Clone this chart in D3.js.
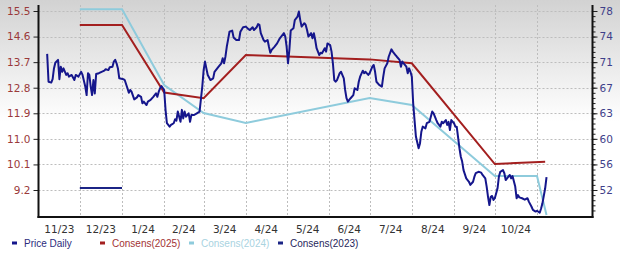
<!DOCTYPE html>
<html>
<head>
<meta charset="utf-8">
<script src="https://cdn.jsdelivr.net/npm/d3@7"></script>
<style>
  html, body { margin: 0; padding: 0; background: #fff; }
  #chart { width: 620px; height: 253px; }
  text { font-family: "DejaVu Sans", Verdana, sans-serif; }
</style>
</head>
<body>
<div id="chart"></div>
<script>
// ---- data ----
const monthLabels = ['11/23', '12/23', '1/24', '2/24', '3/24', '4/24', '5/24', '6/24', '7/24', '8/24', '9/24', '10/24'];
const leftTicks = [15.5, 14.6, 13.7, 12.8, 11.9, 11.0, 10.1, 9.2];
const rightTicks = [78.0, 74.3, 70.6, 66.9, 63.2, 59.5, 55.8, 52.1];

const priceDates = [
  '2023-11-07','2023-11-08','2023-11-10','2023-11-11','2023-11-12','2023-11-13','2023-11-15','2023-11-16','2023-11-17','2023-11-18',
  '2023-11-19','2023-11-21','2023-11-22','2023-11-23','2023-11-25','2023-11-27','2023-11-28','2023-11-30','2023-12-02','2023-12-03',
  '2023-12-05','2023-12-06','2023-12-07','2023-12-08','2023-12-09','2023-12-10','2023-12-11','2023-12-12','2023-12-13','2023-12-15',
  '2023-12-17','2023-12-19','2023-12-20','2023-12-22','2023-12-23','2023-12-25','2023-12-26','2023-12-27','2023-12-28','2023-12-29',
  '2023-12-30','2024-01-02','2024-01-03','2024-01-05','2024-01-06','2024-01-07','2024-01-08','2024-01-10','2024-01-12','2024-01-13',
  '2024-01-15','2024-01-16','2024-01-17','2024-01-19','2024-01-20','2024-01-22','2024-01-24','2024-01-26','2024-01-27','2024-01-28',
  '2024-01-29','2024-01-30','2024-02-01','2024-02-02','2024-02-03','2024-02-05','2024-02-06','2024-02-08','2024-02-09','2024-02-10',
  '2024-02-11','2024-02-13','2024-02-14','2024-02-15','2024-02-16','2024-02-17','2024-02-19','2024-02-20','2024-02-21','2024-02-23',
  '2024-02-25','2024-02-27','2024-02-29','2024-03-01','2024-03-02','2024-03-03','2024-03-04','2024-03-06','2024-03-08','2024-03-09',
  '2024-03-11','2024-03-12','2024-03-14','2024-03-15','2024-03-16','2024-03-17','2024-03-18','2024-03-19','2024-03-20','2024-03-22',
  '2024-03-23','2024-03-25','2024-03-27','2024-03-28','2024-03-30','2024-04-01','2024-04-03','2024-04-04','2024-04-06','2024-04-07',
  '2024-04-09','2024-04-10','2024-04-11','2024-04-12','2024-04-14','2024-04-15','2024-04-17','2024-04-18','2024-04-19','2024-04-20',
  '2024-04-22','2024-04-24','2024-04-26','2024-04-29','2024-04-30','2024-05-01','2024-05-02','2024-05-03','2024-05-04','2024-05-06',
  '2024-05-07','2024-05-09','2024-05-10','2024-05-11','2024-05-12','2024-05-14','2024-05-15','2024-05-16','2024-05-17','2024-05-19',
  '2024-05-20','2024-05-21','2024-05-22','2024-05-23','2024-05-25','2024-05-26','2024-05-27','2024-05-29','2024-05-30','2024-05-31',
  '2024-06-02','2024-06-03','2024-06-04','2024-06-05','2024-06-06','2024-06-07','2024-06-09','2024-06-10','2024-06-12','2024-06-13',
  '2024-06-14','2024-06-15','2024-06-17','2024-06-19','2024-06-20','2024-06-22','2024-06-23','2024-06-24','2024-06-26','2024-06-27',
  '2024-06-28','2024-06-30','2024-07-01','2024-07-03','2024-07-04','2024-07-05','2024-07-06','2024-07-08','2024-07-10','2024-07-11',
  '2024-07-12','2024-07-14','2024-07-15','2024-07-17','2024-07-18','2024-07-20','2024-07-21','2024-07-23','2024-07-24','2024-07-25',
  '2024-07-26','2024-07-28','2024-07-29','2024-07-30','2024-07-31','2024-08-01','2024-08-02','2024-08-03','2024-08-04','2024-08-06',
  '2024-08-07','2024-08-08','2024-08-09','2024-08-11','2024-08-12','2024-08-14','2024-08-16','2024-08-17','2024-08-19','2024-08-20',
  '2024-08-22','2024-08-23','2024-08-24','2024-08-26','2024-08-27','2024-08-28','2024-08-29','2024-08-30','2024-09-01','2024-09-02',
  '2024-09-03','2024-09-05','2024-09-06','2024-09-07','2024-09-08','2024-09-10','2024-09-12','2024-09-13','2024-09-15','2024-09-16',
  '2024-09-17','2024-09-19','2024-09-21','2024-09-22','2024-09-24','2024-09-25','2024-09-26','2024-09-27','2024-09-28','2024-09-29',
  '2024-09-30','2024-10-01','2024-10-03','2024-10-04','2024-10-05','2024-10-07','2024-10-08','2024-10-09','2024-10-11','2024-10-12',
  '2024-10-13','2024-10-14','2024-10-16','2024-10-17','2024-10-18','2024-10-19','2024-10-21','2024-10-23','2024-10-25','2024-10-26',
  '2024-10-28','2024-10-29','2024-10-31','2024-11-01','2024-11-03','2024-11-04','2024-11-05','2024-11-07','2024-11-08'
];
const priceValues = [
  13.99, 13.01, 12.98, 13.10, 13.48, 13.68, 13.78, 13.10, 13.54, 13.36,
  13.48, 13.25, 13.31, 13.19, 13.25, 13.07, 13.25, 13.19, 13.36, 13.25,
  12.84, 12.54, 13.31, 13.25, 12.84, 12.54, 13.07, 12.60, 13.28, 13.31,
  13.36, 13.40, 13.45, 13.42, 13.52, 13.54, 13.72, 13.78, 13.66, 13.48,
  13.13, 13.10, 13.07, 12.78, 12.62, 12.72, 12.66, 12.39, 12.46, 12.54,
  12.48, 12.25, 12.31, 12.19, 12.31, 12.37, 12.48, 12.60, 12.48, 12.66,
  12.78, 12.86, 12.72, 12.02, 11.55, 11.43, 11.49, 11.55, 11.69, 11.64,
  11.96, 11.60, 12.02, 11.72, 11.96, 11.78, 11.90, 11.60, 11.84, 11.84,
  11.90, 11.96, 12.84, 13.42, 13.72, 13.48, 13.25, 13.07, 13.13, 13.36,
  13.48, 13.54, 13.66, 13.84, 13.66, 13.89, 14.24, 14.50, 14.77, 14.81,
  14.57, 14.48, 14.48, 14.77, 14.93, 14.95, 14.86, 14.83, 14.93, 14.83,
  14.93, 15.04, 15.01, 14.72, 14.48, 14.42, 14.48, 14.24, 14.03, 14.13,
  14.24, 14.36, 14.54, 14.72, 14.60, 14.24, 13.66, 14.13, 14.81, 14.89,
  15.18, 15.30, 15.48, 15.18, 14.95, 15.07, 15.01, 14.83, 14.60, 14.72,
  14.54, 14.72, 14.48, 14.19, 13.95, 14.03, 14.01, 14.19, 14.07, 14.36,
  14.30, 14.07, 13.66, 13.07, 13.01, 13.07, 13.31, 13.36, 13.13, 12.72,
  12.43, 12.31, 12.43, 12.54, 12.78, 12.72, 13.01, 13.19, 13.40, 13.31,
  13.36, 13.25, 13.31, 13.54, 13.60, 13.36, 13.01, 12.90, 12.84, 13.19,
  13.48, 13.66, 13.89, 14.15, 14.07, 13.95, 13.89, 13.78, 13.54, 13.72,
  13.66, 13.54, 13.31, 13.48, 13.36, 13.19, 12.25, 11.66, 11.08, 10.67,
  10.84, 11.25, 11.43, 11.37, 11.55, 11.60, 11.96, 11.90, 11.66, 11.55,
  11.43, 11.60, 11.55, 11.66, 11.49, 11.60, 11.31, 11.66, 11.55, 11.43,
  11.43, 10.67, 10.37, 10.20, 9.90, 9.61, 9.49, 9.38, 9.49, 9.67,
  9.79, 9.84, 9.81, 9.73, 9.61, 9.32, 8.96, 8.67, 8.96, 8.99,
  8.85, 8.91, 9.26, 9.67, 9.84, 9.90, 9.79, 9.55, 9.67, 9.73,
  9.61, 9.69, 9.32, 8.91, 9.02, 8.94, 8.91, 8.86, 8.91, 8.79,
  8.61, 8.50, 8.44, 8.47, 8.40, 8.55, 8.73, 9.26, 9.65
];

// consensus estimates (right axis)
const cons2025Dates = ['2023-12-01', '2024-01-01', '2024-02-01', '2024-03-01', '2024-04-01', '2024-07-01', '2024-08-01', '2024-10-01', '2024-11-07'];
const cons2025Values = [75.98, 75.98, 66.20, 65.37, 71.63, 71.00, 70.43, 55.86, 56.20];
const cons2024Dates = ['2023-12-01', '2024-01-01', '2024-02-01', '2024-03-01', '2024-04-01', '2024-07-01', '2024-08-01', '2024-10-01', '2024-11-01', '2024-11-08'];
const cons2024Values = [78.25, 78.25, 67.29, 63.24, 61.79, 65.41, 64.40, 54.13, 54.13, 48.48];
const cons2023Dates = ['2023-12-01', '2024-01-01'];
const cons2023Values = [52.39, 52.39];

const seriesNames = ['Price Daily', 'Consens(2025)', 'Consens(2024)', 'Consens(2023)'];

// ---- layout ----
const W = 620, H = 253;
const plot = { left: 38.5, right: 592.5, top: 5, bottom: 217 };
const colors = {
  price: '#15168c',
  c2025: '#a31f1f',
  c2024: '#8ecbdc',
  c2023: '#1b2485'
};

const parse = d3.timeParse('%Y-%m-%d');
const zip = (ds, vs) => ds.map((d, i) => ({ date: parse(d), value: vs[i] }));

const price = zip(priceDates, priceValues);
const c2025 = zip(cons2025Dates, cons2025Values);
const c2024 = zip(cons2024Dates, cons2024Values);
const c2023 = zip(cons2023Dates, cons2023Values);

const svg = d3.select('#chart')
  .append('svg')
  .attr('width', W)
  .attr('height', H);

// background gradient, gray at the top fading to white
const grad = svg.append('defs').append('linearGradient')
  .attr('id', 'bg')
  .attr('x1', 0).attr('y1', 0).attr('x2', 0).attr('y2', 1);
grad.append('stop').attr('offset', '0%').attr('stop-color', '#d2d2d2');
grad.append('stop').attr('offset', '48%').attr('stop-color', '#ffffff');
grad.append('stop').attr('offset', '100%').attr('stop-color', '#ffffff');

svg.append('rect')
  .attr('width', W)
  .attr('height', H)
  .attr('fill', 'url(#bg)');

// scales
const x = d3.scaleTime()
  .domain([parse('2023-11-01'), parse('2024-11-01')])
  .range([39, 537]);

const yL = d3.scaleLinear()
  .domain([9.2, 15.5])
  .range([190, 11]);

const yR = d3.scaleLinear()
  .domain([52.1, 78.0])
  .range([190, 11]);

const monthStarts = d3.timeMonth.range(parse('2023-11-01'), parse('2024-12-01'));

// grid
const grid = svg.append('g')
  .attr('stroke', '#bdbdbd')
  .attr('stroke-width', 1)
  .attr('stroke-dasharray', '2,2');

grid.selectAll('.hgrid')
  .data(leftTicks)
  .join('line')
  .attr('class', 'hgrid')
  .attr('x1', plot.left)
  .attr('x2', plot.right)
  .attr('y1', (d) => Math.round(yL(d)) + 0.5)
  .attr('y2', (d) => Math.round(yL(d)) + 0.5);

grid.selectAll('.vgrid')
  .data(monthStarts.slice(1))
  .join('line')
  .attr('class', 'vgrid')
  .attr('x1', (d) => Math.round(x(d)) + 0.5)
  .attr('x2', (d) => Math.round(x(d)) + 0.5)
  .attr('y1', plot.top)
  .attr('y2', plot.bottom);

// lines
const lineL = d3.line().x((d) => x(d.date)).y((d) => yL(d.value));
const lineR = d3.line().x((d) => x(d.date)).y((d) => yR(d.value));

svg.append('path')
  .datum(c2024)
  .attr('d', lineR)
  .attr('fill', 'none')
  .attr('stroke', colors.c2024)
  .attr('stroke-width', 2);

svg.append('path')
  .datum(c2025)
  .attr('d', lineR)
  .attr('fill', 'none')
  .attr('stroke', colors.c2025)
  .attr('stroke-width', 2);

svg.append('path')
  .datum(c2023)
  .attr('d', lineR)
  .attr('fill', 'none')
  .attr('stroke', colors.c2023)
  .attr('stroke-width', 2);

svg.append('path')
  .datum(price)
  .attr('d', lineL)
  .attr('fill', 'none')
  .attr('stroke', colors.price)
  .attr('stroke-width', 2)
  .attr('stroke-linejoin', 'round');

// left axis
const leftAxis = svg.append('g')
  .attr('transform', `translate(${plot.left},0)`)
  .call(d3.axisLeft(yL).tickValues(leftTicks).tickSize(5).tickPadding(3).tickFormat(d3.format('.1f')));
leftAxis.select('.domain').remove();
leftAxis.selectAll('.tick line').attr('stroke', '#222');
leftAxis.selectAll('.tick text')
  .attr('fill', '#9a3a3a')
  .style('font-size', '10.5px');

// right axis, minor ticks first
const minorTicks = d3.range(-8, 42).map((i) => 52.1 + i * 0.74)
  .filter((v) => yR(v) > plot.top + 2 && yR(v) < plot.bottom - 2);
const rightMinor = svg.append('g')
  .attr('transform', `translate(${plot.right},0)`)
  .call(d3.axisRight(yR).tickValues(minorTicks).tickSize(3).tickFormat(''));
rightMinor.select('.domain').remove();
rightMinor.selectAll('.tick line').attr('stroke', '#222');

const rightAxis = svg.append('g')
  .attr('transform', `translate(${plot.right},0)`)
  .call(d3.axisRight(yR).tickValues(rightTicks).tickSize(5).tickPadding(2).tickFormat(d3.format('.0f')));
rightAxis.select('.domain').remove();
rightAxis.selectAll('.tick line').attr('stroke', '#222');
rightAxis.selectAll('.tick text')
  .attr('fill', '#3f3f8a')
  .style('font-size', '10.5px');

// frame lines
svg.append('line')
  .attr('x1', plot.left).attr('x2', plot.left)
  .attr('y1', plot.top).attr('y2', plot.bottom + 1)
  .attr('stroke', '#111').attr('stroke-width', 2);
svg.append('line')
  .attr('x1', plot.right).attr('x2', plot.right)
  .attr('y1', plot.top).attr('y2', plot.bottom + 1)
  .attr('stroke', '#111').attr('stroke-width', 2);
svg.append('line')
  .attr('x1', plot.left - 1).attr('x2', plot.right + 1)
  .attr('y1', plot.bottom).attr('y2', plot.bottom)
  .attr('stroke', '#111').attr('stroke-width', 2);

// month labels centred in each month
svg.selectAll('.mlabel')
  .data(monthLabels)
  .join('text')
  .attr('class', 'mlabel')
  .attr('x', (d, i) => (x(monthStarts[i]) + x(monthStarts[i + 1])) / 2)
  .attr('y', 233)
  .attr('text-anchor', 'middle')
  .attr('fill', '#333')
  .style('font-size', '10.5px')
  .text((d) => d);

// legend
const legendColors = [colors.price, colors.c2025, colors.c2024, colors.c2023];
const legendText = ['#2c2c7c', '#a33333', '#a9d3df', '#1f1f5c'];
const legendX = [12, 100, 189, 278];
const legend = svg.selectAll('.legend')
  .data(seriesNames)
  .join('g')
  .attr('class', 'legend')
  .attr('transform', (d, i) => `translate(${legendX[i]},243)`);

legend.append('rect')
  .attr('x', 0)
  .attr('y', -1.5)
  .attr('width', 5)
  .attr('height', 3)
  .attr('fill', (d, i) => legendColors[i]);

legend.append('text')
  .attr('x', 12)
  .attr('y', 4)
  .attr('fill', (d, i) => legendText[i])
  .style('font-family', '"Liberation Sans", Arial, sans-serif')
  .style('font-size', '10px')
  .text((d) => d);
</script>
</body>
</html>
